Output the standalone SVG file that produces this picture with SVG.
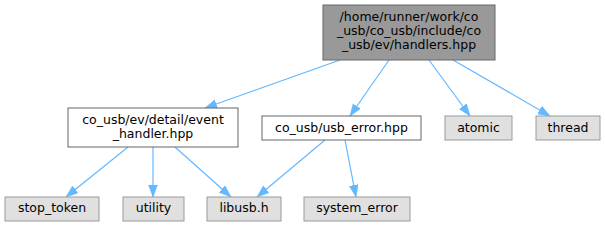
<svg xmlns="http://www.w3.org/2000/svg" width="605" height="227" viewBox="0 0 605 227">
<style>
text{font-family:"DejaVu Sans",sans-serif;font-size:12.5px;fill:#000;text-anchor:middle}
.main{fill:#999999;stroke:#666666;stroke-width:1}
.file{fill:#ffffff;stroke:#666666;stroke-width:1}
.ext{fill:#e0e0e0;stroke:#999999;stroke-width:1}
.edge{stroke:#63b8ff;stroke-width:1.2;fill:none;marker-end:url(#arr)}
</style>
<defs>
<marker id="arr" markerUnits="userSpaceOnUse" markerWidth="13" markerHeight="10" refX="12" refY="4.5" orient="auto">
<path d="M0,0 L12,4.5 L0,9 z" fill="#63b8ff" stroke="#63b8ff" stroke-width="0.5"/>
</marker>
</defs>
<g id="edges">
<line class="edge" x1="340" y1="60" x2="205" y2="108"/>
<line class="edge" x1="389" y1="60" x2="350" y2="116"/>
<line class="edge" x1="429" y1="60" x2="470" y2="116"/>
<line class="edge" x1="453" y1="60" x2="550" y2="116"/>
<line class="edge" x1="128" y1="147" x2="66" y2="197"/>
<line class="edge" x1="153" y1="147" x2="153" y2="197"/>
<line class="edge" x1="175" y1="147" x2="231" y2="197"/>
<line class="edge" x1="325" y1="140" x2="257" y2="197"/>
<line class="edge" x1="345" y1="140" x2="356" y2="197"/>
</g>
<g id="handlers">
<rect class="main" x="323" y="5" width="172" height="55"/>
<text x="409" y="21">/home/runner/work/co</text>
<text x="409" y="35">_usb/co_usb/include/co</text>
<text x="409" y="49">_usb/ev/handlers.hpp</text>
</g>
<g id="event_handler">
<rect class="file" x="68" y="108" width="170" height="39"/>
<text x="153" y="124">co_usb/ev/detail/event</text>
<text x="153" y="138">_handler.hpp</text>
</g>
<g id="usb_error">
<rect class="file" x="262" y="116" width="159" height="24"/>
<text x="341.5" y="132">co_usb/usb_error.hpp</text>
</g>
<g id="atomic">
<rect class="ext" x="445" y="116" width="67" height="24"/>
<text x="478.5" y="132">atomic</text>
</g>
<g id="thread">
<rect class="ext" x="536" y="116" width="64" height="24"/>
<text x="568" y="132">thread</text>
</g>
<g id="stop_token">
<rect class="ext" x="5" y="197" width="94" height="24"/>
<text x="52" y="212">stop_token</text>
</g>
<g id="utility">
<rect class="ext" x="123" y="197" width="61" height="24"/>
<text x="153.5" y="212">utility</text>
</g>
<g id="libusb">
<rect class="ext" x="207" y="197" width="74" height="24"/>
<text x="244" y="212">libusb.h</text>
</g>
<g id="system_error">
<rect class="ext" x="304" y="197" width="106" height="24"/>
<text x="357" y="212">system_error</text>
</g>
</svg>
